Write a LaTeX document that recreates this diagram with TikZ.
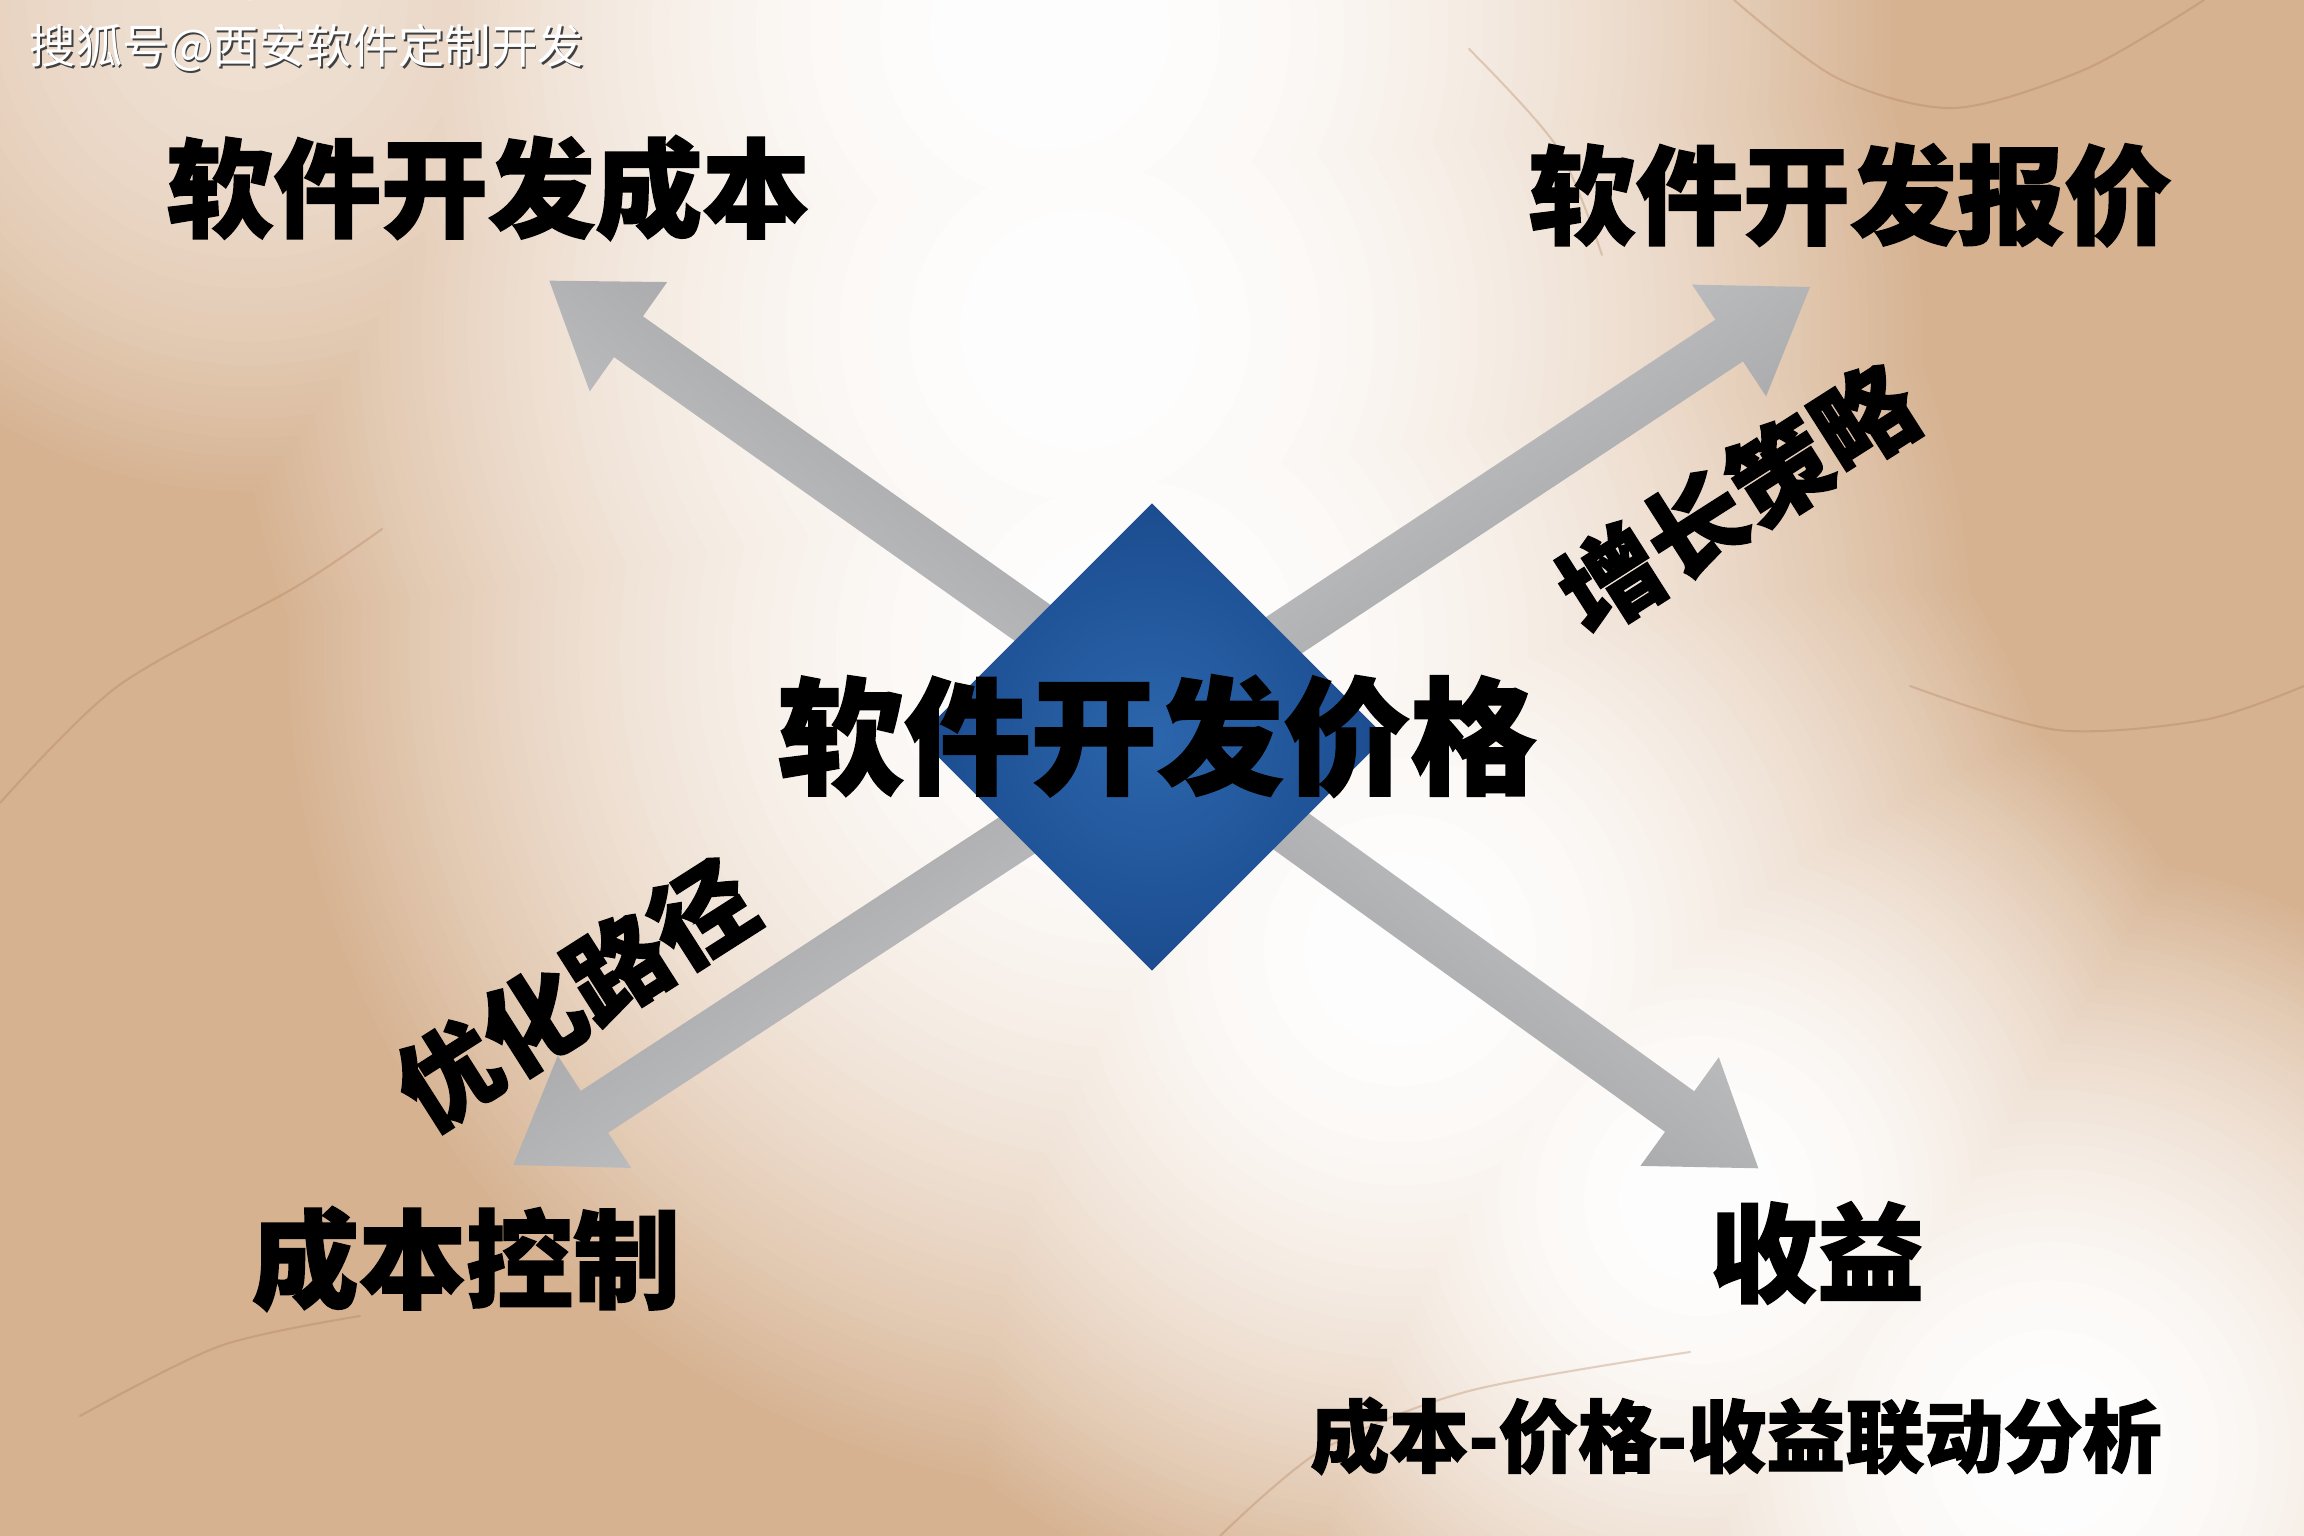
\documentclass[tikz,border=0pt]{standalone}
\usepackage{fontspec}
\newfontfamily\cjk{Noto Sans CJK SC}[BoldFeatures={FakeBold=1.5}]
\usetikzlibrary{shapes.geometric}
\definecolor{tanbg}{RGB}{214,178,145}
\definecolor{vein}{RGB}{172,120,80}
\definecolor{diain}{RGB}{44,102,172}
\definecolor{diaout}{RGB}{27,76,143}
\definecolor{arrlight}{RGB}{206,207,209}
\definecolor{arrdark}{RGB}{152,152,154}
\begin{document}
\begin{tikzpicture}[x=1cm,y=1cm,
  title/.style={font=\cjk\bfseries\fontsize{30.5}{36}\selectfont, text=black, inner sep=0pt},
  centertitle/.style={font=\cjk\bfseries\fontsize{36}{42}\selectfont, text=black, inner sep=0pt},
  rottitle/.style={font=\cjk\bfseries\fontsize{28.5}{34}\selectfont, text=black, inner sep=0pt, rotate=32.5},
  subtitle/.style={font=\cjk\bfseries\fontsize{22.5}{27}\selectfont, text=black, inner sep=0pt},
  wm/.style={font=\cjk\fontsize{13.2}{16}\selectfont, inner sep=0pt},
  arrowbody/.style={left color=arrlight, right color=arrdark},
  veinline/.style={draw=vein, line width=0.6pt, draw opacity=0.3, line cap=round}
]
\useasboundingbox (0,0) rectangle (23.04,15.36);
% background marble with a soft light streak (opaque level sets)
\begin{scope}
\clip (0,0) rectangle (23.04,15.36);
\fill[tanbg] (0,0) rectangle (23.04,15.36);
\foreach \t in {2,4,...,98} {
  \pgfmathsetmacro\s{sqrt(1-\t/100)}
  \pgfmathsetmacro\sc{max(0.001,sqrt(max(0,1-\t/60)))}
  \fill[white!\t!tanbg] (10.5,15.06) circle ({8.5*\s}) (10.8,12.06) circle ({8.5*\s})
    (11.3,8.86) circle ({8.5*\s}) (14.0,5.86) circle ({6.8*\s}) (17.0,3.36) circle ({5.8*\s})
    (20.5,0.86) circle ({6*\s}) (2.5,15.36) circle ({5*\sc});
}
% marble veins
\draw[veinline] plot[smooth] coordinates {(17.34,15.36) (18.37,14.58) (19.54,14.28) (20.86,14.67) (22.04,15.36)};
\draw[veinline] plot[smooth] coordinates {(19.10,8.50) (20.57,8.06) (22.04,8.16) (23.04,8.50)};
\draw[veinline] plot[smooth] coordinates {(0,7.33) (1.18,8.50) (2.94,9.48) (3.82,10.07)};
\draw[veinline] plot[smooth] coordinates {(0.8,1.2) (2.2,1.9) (3.6,2.2)};
\draw[veinline] plot[smooth] coordinates {(12.20,0) (13.22,0.86) (14.69,1.45) (16.90,1.84)};
\draw[veinline] plot[smooth] coordinates {(14.69,14.87) (15.57,13.89) (16.02,12.81)};
\end{scope}
% arrow tips
\coordinate (tipUL) at (5.493,12.553);
\coordinate (tipUR) at (18.10,12.49);
\coordinate (tipLL) at (5.133,3.71);
\coordinate (tipLR) at (17.583,3.677);
\foreach \t/\a in {tipUL/144.7, tipUR/33.5, tipLL/213.2, tipLR/-35.8} {
  \begin{scope}[shift={(\t)}, rotate=\a]
    \shade[arrowbody, shading angle=\a] (0,0) -- (-0.97,0.67) -- (-0.97,0.25) -- (-7.4,0.25)
      -- (-7.4,-0.25) -- (-0.97,-0.25) -- (-0.97,-0.67) -- cycle;
  \end{scope}
}
% central diamond
\node[diamond, aspect=1, minimum width=4.68cm, minimum height=4.68cm, inner sep=0pt,
      inner color=diain, outer color=diaout] (price) at (11.52,7.99) {};
% texts
\node[centertitle] (pricetext) at (11.57,8.00) {软件开发价格};
\node[title] (cost) at (4.88,13.48) {软件开发成本};
\node[title] (quote) at (18.50,13.41) {软件开发报价};
\node[title] (ctrl) at (4.66,2.77) {成本控制};
\node[title] (gain) at (18.17,2.83) {收益};
\node[subtitle] (analysis) at (17.36,1.00) {成本-价格-收益联动分析};
\node[rottitle] (growth) at (17.37,10.38) {增长策略};
\node[rottitle] (optim) at (5.75,5.42) {优化路径};
% watermark
\node[wm, text=black!75] (wmshadow) at (3.085,14.865) {搜狐号@西安软件定制开发};
\node[wm, text=white] (wm) at (3.07,14.88) {搜狐号@西安软件定制开发};
\end{tikzpicture}
\end{document}
